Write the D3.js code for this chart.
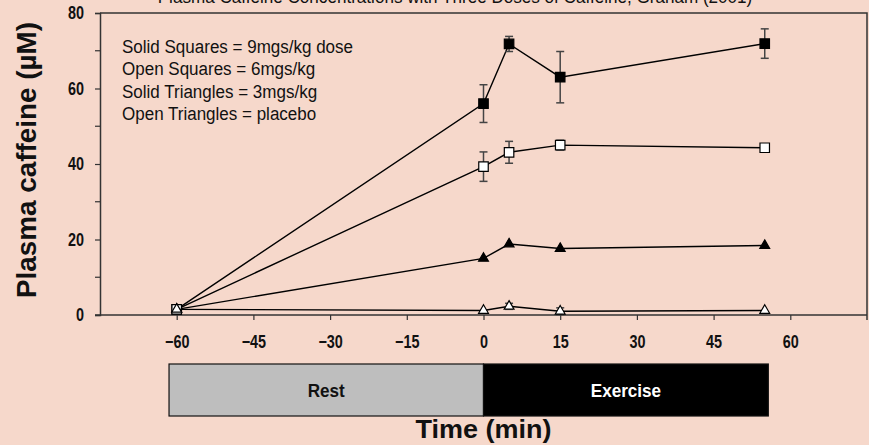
<!DOCTYPE html>
<html>
<head>
<meta charset="utf-8">
<script src="https://cdn.jsdelivr.net/npm/d3@7"></script>
<style>
  body { margin: 0; background: #f6d8cb; }
  svg { display: block; }
  text { font-family: "Liberation Sans", Arial, sans-serif; fill: #111; }
</style>
</head>
<body>
<div id="chart"></div>
<script>
// time points (min) and mean plasma caffeine (uM) for each dose, with error bars
const times = [-60, 0, 5, 15, 55];
const dose9 = [1.5, 56.0, 71.8, 63.0, 71.9];
const err9 = [0, 5.0, 2.0, 6.8, 3.9];
const dose6 = [1.5, 39.3, 43.1, 45.0, 44.3];
const err6 = [0, 3.9, 2.9, 1.3, 0];
const dose3 = [1.5, 15.0, 18.8, 17.6, 18.4];
const err3 = [0, 0, 0, 0, 0];
const placebo = [1.5, 1.2, 2.3, 1.0, 1.2];
const errP = [0, 0, 0.8, 0.9, 0];

const xTicks = [-60, -45, -30, -15, 0, 15, 30, 45, 60];
const yTicks = [0, 20, 40, 60, 80];
const yMinor = [10, 30, 50, 70];

const legendLines = [
    "Solid Squares = 9mgs/kg dose",
    "Open Squares = 6mgs/kg",
    "Solid Triangles = 3mgs/kg",
    "Open Triangles = placebo"
];

const phaseNames = ["Rest", "Exercise"];
const phaseStart = [-61.5, 0];
const phaseEnd = [0, 55.7];

// squeeze text horizontally to mimic a condensed face
function narrow(sel, k) {
    sel.each(function () {
        const t = d3.select(this);
        const tx = +t.attr("x") || 0;
        const ty = +t.attr("y") || 0;
        t.attr("x", 0).attr("y", 0)
            .attr("transform", `translate(${tx},${ty}) scale(${k},1)`);
    });
}

function init() {
    const width = 869;
    const height = 445;

    const svg = d3.select("#chart")
        .append("svg")
        .attr("width", width)
        .attr("height", height);

    const x = d3.scaleLinear().domain([-75, 75]).range([100, 867]);
    const y = d3.scaleLinear().domain([0, 80]).range([315, 13]);

    // partly cut-off heading at the very top
    svg.append("text")
        .attr("x", 455).attr("y", 3)
        .attr("text-anchor", "middle")
        .attr("font-size", 19)
        .text("Plasma Caffeine Concentrations with Three Doses of Caffeine, Graham (2001)")
        .call(narrow, 0.9);

    // frame: top and right
    svg.append("path")
        .attr("d", `M${x(-75)},${y(80)}H${x(75)}V${y(0) + 5}`)
        .attr("fill", "none")
        .attr("stroke", "#333")
        .attr("stroke-width", 1.5);

    // y axis
    const yAxis = svg.append("g")
        .attr("transform", `translate(${x(-75)},0)`)
        .call(d3.axisLeft(y).tickValues(yTicks).tickSize(5).tickPadding(11));
    yAxis.select(".domain").attr("stroke", "#333").attr("stroke-width", 1.5);
    yAxis.selectAll(".tick line").attr("stroke", "#333").attr("stroke-width", 1.2);
    yAxis.selectAll(".tick text")
        .attr("font-size", 18).attr("font-weight", "bold")
        .attr("fill", "#111")
        .call(narrow, 0.8);
    svg.append("g")
        .selectAll("line")
        .data(yMinor)
        .enter().append("line")
        .attr("x1", x(-75) - 5).attr("x2", x(-75))
        .attr("y1", d => y(d)).attr("y2", d => y(d))
        .attr("stroke", "#333").attr("stroke-width", 1.2);

    // x axis
    const xAxis = svg.append("g")
        .attr("transform", `translate(0,${y(0)})`)
        .call(d3.axisBottom(x).tickValues(xTicks).tickSize(5).tickPadding(15));
    xAxis.select(".domain").attr("d", `M${x(-75) - 5},0H${x(75)}`)
        .attr("stroke", "#333").attr("stroke-width", 1.5);
    xAxis.selectAll(".tick line").attr("stroke", "#333").attr("stroke-width", 1.2);
    xAxis.selectAll(".tick text")
        .attr("font-size", 18).attr("font-weight", "bold")
        .attr("fill", "#111")
        .call(narrow, 0.8);

    // axis titles
    svg.append("text")
        .attr("transform", `translate(36,160) rotate(-90)`)
        .attr("text-anchor", "middle")
        .attr("font-size", 28).attr("font-weight", "bold")
        .attr("textLength", 276)
        .attr("lengthAdjust", "spacingAndGlyphs")
        .text("Plasma caffeine (\u00B5M)");
    svg.append("text")
        .attr("x", x(0)).attr("y", 438)
        .attr("text-anchor", "middle")
        .attr("font-size", 26).attr("font-weight", "bold")
        .attr("textLength", 136)
        .attr("lengthAdjust", "spacingAndGlyphs")
        .text("Time (min)");

    // legend text
    svg.append("g")
        .selectAll("text")
        .data(legendLines)
        .enter().append("text")
        .attr("x", 122)
        .attr("y", (d, i) => 53 + i * 22.3)
        .attr("font-size", 18)
        .text(d => d)
        .call(narrow, 0.945);

    // rest / exercise bar
    const phases = phaseNames.map((n, i) => ({ name: n, start: phaseStart[i], end: phaseEnd[i] }));
    const ph = svg.append("g");
    ph.selectAll("rect")
        .data(phases)
        .enter().append("rect")
        .attr("x", d => x(d.start))
        .attr("y", 364)
        .attr("width", d => x(d.end) - x(d.start))
        .attr("height", 52)
        .attr("fill", (d, i) => i === 0 ? "#bebebe" : "#000")
        .attr("stroke", "#111")
        .attr("stroke-width", 1.2);
    ph.selectAll("text")
        .data(phases)
        .enter().append("text")
        .attr("x", d => (x(d.start) + x(d.end)) / 2)
        .attr("y", 397)
        .attr("text-anchor", "middle")
        .attr("font-size", 19).attr("font-weight", "bold")
        .style("fill", (d, i) => i === 0 ? "#111" : "#fff")
        .text(d => d.name)
        .call(narrow, 0.9);

    // drawn so the open markers sit on top where they overlap at -60
    const series = [
        { vals: dose9, errs: err9, shape: d3.symbolSquare, fill: "#000", size: 90 },
        { vals: dose3, errs: err3, shape: d3.symbolTriangle, fill: "#000", size: 42 },
        { vals: dose6, errs: err6, shape: d3.symbolSquare, fill: "#fff", size: 90 },
        { vals: placebo, errs: errP, shape: d3.symbolTriangle, fill: "#fff", size: 42 }
    ];

    const line = d3.line()
        .x(d => x(d.t))
        .y(d => y(d.v));

    series.forEach(s => {
        const pts = times.map((t, i) => ({ t: t, v: s.vals[i], e: s.errs[i] }));
        const g = svg.append("g");

        g.append("path")
            .datum(pts)
            .attr("d", line)
            .attr("fill", "none")
            .attr("stroke", "#000")
            .attr("stroke-width", 1.4);

        const eb = g.selectAll(".err")
            .data(pts.filter(d => d.e > 0))
            .enter().append("g")
            .attr("stroke", "#444")
            .attr("stroke-width", 1.5);
        eb.append("line")
            .attr("x1", d => x(d.t)).attr("x2", d => x(d.t))
            .attr("y1", d => y(d.v - d.e)).attr("y2", d => y(d.v + d.e));
        eb.append("line")
            .attr("x1", d => x(d.t) - 4).attr("x2", d => x(d.t) + 4)
            .attr("y1", d => y(d.v + d.e)).attr("y2", d => y(d.v + d.e));
        eb.append("line")
            .attr("x1", d => x(d.t) - 4).attr("x2", d => x(d.t) + 4)
            .attr("y1", d => y(d.v - d.e)).attr("y2", d => y(d.v - d.e));

        g.selectAll(".pt")
            .data(pts)
            .enter().append("path")
            .attr("transform", d => `translate(${x(d.t)},${y(d.v)})`)
            .attr("d", d3.symbol().type(s.shape).size(s.size))
            .attr("fill", s.fill)
            .attr("stroke", "#000")
            .attr("stroke-width", 1.2);
    });
}
window.onload = init;
</script>
</body>
</html>
